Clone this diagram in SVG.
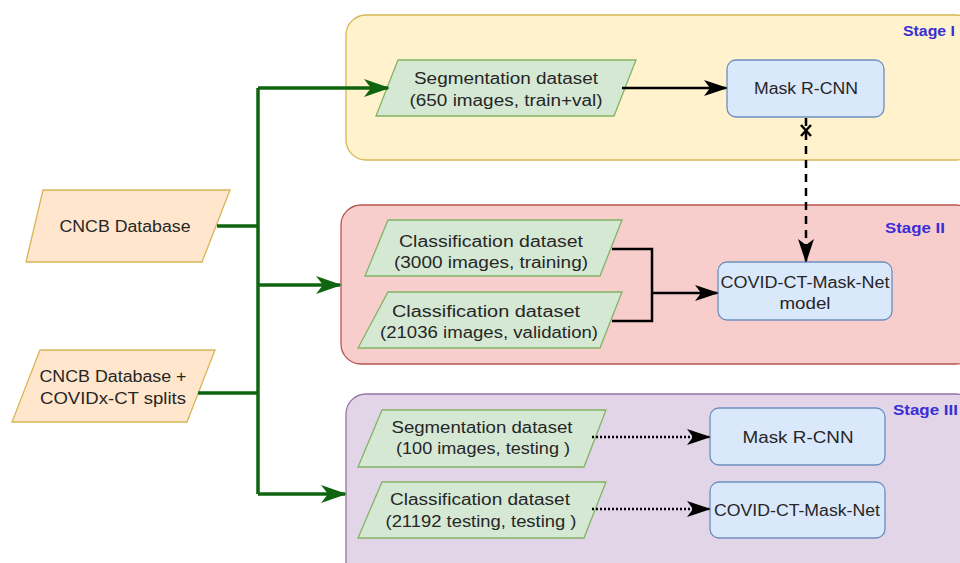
<svg xmlns="http://www.w3.org/2000/svg" width="960" height="563" viewBox="0 0 960 563">
<defs>
<style>
text{font-family:"Liberation Sans",Arial,sans-serif;font-size:16px;fill:#262626;text-anchor:middle}
.stage{font-weight:bold;font-size:15px;fill:#3a2fd6;text-anchor:start}
.g{fill:#d5e8d4;stroke:#82b366;stroke-width:1.3}
.o{fill:#ffe6cc;stroke:#d6b656;stroke-width:1.3}
.b{fill:#dae8fc;stroke:#6c8ebf;stroke-width:1.3}
.gl{stroke:#0f640f;stroke-width:3.5;fill:none}
.bl{stroke:#000;stroke-width:2.5;fill:none}
</style>
<marker id="ab" viewBox="0 0 24 16" refX="22" refY="8" markerWidth="24" markerHeight="16" markerUnits="userSpaceOnUse" orient="auto">
<path d="M0,0 L24,8 L0,16 L6,8 z" fill="#000"/>
</marker>
<marker id="ag2" viewBox="0 0 26 18" refX="24" refY="9" markerWidth="26" markerHeight="18" markerUnits="userSpaceOnUse" orient="auto">
<path d="M0,0 L26,9 L0,18 L7,9 z" fill="#0f640f"/>
</marker>
</defs>

<g id="stage1">
<rect x="346" y="15" width="630" height="145" rx="20" fill="#fff2cc" stroke="#d6b656" stroke-width="1.3"/>
<text class="stage" x="903" y="36" textLength="52" lengthAdjust="spacingAndGlyphs">Stage I</text>
</g>
<g id="stage2">
<rect x="341" y="205" width="635" height="159" rx="20" fill="#f8cecc" stroke="#b85450" stroke-width="1.3"/>
<text class="stage" x="885" y="233" textLength="60" lengthAdjust="spacingAndGlyphs">Stage II</text>
</g>
<g id="stage3">
<rect x="346" y="394" width="630" height="190" rx="20" fill="#e1d5e7" stroke="#9673a6" stroke-width="1.3"/>
<text class="stage" x="893" y="415" textLength="65" lengthAdjust="spacingAndGlyphs">Stage III</text>
</g>

<g id="cncb">
<polygon class="o" points="43,190 230,190 202,262 26,262"/>
<text x="125" y="232" textLength="131" lengthAdjust="spacingAndGlyphs">CNCB Database</text>
</g>
<g id="cncb-covidx">
<polygon class="o" points="40,350 215,350 187,422 12,422"/>
<text x="113" y="382" textLength="147" lengthAdjust="spacingAndGlyphs">CNCB Database +</text>
<text x="113" y="404" textLength="146" lengthAdjust="spacingAndGlyphs">COVIDx-CT splits</text>
</g>

<g id="seg-train">
<polygon class="g" points="398,60 636,60 614,116 376,116"/>
<text x="506" y="84" textLength="184" lengthAdjust="spacingAndGlyphs">Segmentation dataset</text>
<text x="506" y="106" textLength="193" lengthAdjust="spacingAndGlyphs">(650 images, train+val)</text>
</g>
<g id="maskrcnn-1">
<rect class="b" x="727" y="60" width="157" height="57" rx="9"/>
<text x="806" y="94" textLength="104" lengthAdjust="spacingAndGlyphs">Mask R-CNN</text>
</g>

<g id="cls-train">
<polygon class="g" points="388,220 622,220 600,276 365,276"/>
<text x="491" y="247" textLength="184" lengthAdjust="spacingAndGlyphs">Classification dataset</text>
<text x="491" y="268" textLength="194" lengthAdjust="spacingAndGlyphs">(3000 images, training)</text>
</g>
<g id="cls-val">
<polygon class="g" points="388,292 622,292 600,348 358,348"/>
<text x="486" y="317" textLength="188" lengthAdjust="spacingAndGlyphs">Classification dataset</text>
<text x="489" y="338" textLength="218" lengthAdjust="spacingAndGlyphs">(21036 images, validation)</text>
</g>
<g id="maskNet-model">
<rect class="b" x="718" y="262" width="174" height="58" rx="9"/>
<text x="805" y="288" textLength="169" lengthAdjust="spacingAndGlyphs">COVID-CT-Mask-Net</text>
<text x="805" y="309" textLength="51" lengthAdjust="spacingAndGlyphs">model</text>
</g>

<g id="seg-test">
<polygon class="g" points="382,410 606,410 584,467 358,467"/>
<text x="482" y="433" textLength="181" lengthAdjust="spacingAndGlyphs">Segmentation dataset</text>
<text x="483" y="454" textLength="174" lengthAdjust="spacingAndGlyphs">(100 images, testing )</text>
</g>
<g id="maskrcnn-2">
<rect class="b" x="710" y="408" width="175" height="57" rx="9"/>
<text x="798" y="443" textLength="111" lengthAdjust="spacingAndGlyphs">Mask R-CNN</text>
</g>
<g id="cls-test">
<polygon class="g" points="382,482 606,482 584,538 358,538"/>
<text x="480" y="505" textLength="180" lengthAdjust="spacingAndGlyphs">Classification dataset</text>
<text x="481" y="527" textLength="191" lengthAdjust="spacingAndGlyphs">(21192 testing, testing )</text>
</g>
<g id="maskNet-2">
<rect class="b" x="710" y="482" width="175" height="56" rx="9"/>
<text x="797" y="516" textLength="166" lengthAdjust="spacingAndGlyphs">COVID-CT-Mask-Net</text>
</g>

<g id="connectors">
<path class="gl" d="M217,226 H258 M198,393 H258 M258,88 V494"/>
<path class="gl" d="M258,88 H388" marker-end="url(#ag2)"/>
<path class="gl" d="M258,285 H340" marker-end="url(#ag2)"/>
<path class="gl" d="M258,494 H345" marker-end="url(#ag2)"/>
<path class="bl" d="M622,88 H726" marker-end="url(#ab)"/>
<path class="bl" d="M612,249 H652 V321 H612"/>
<path class="bl" d="M652,293 H717" marker-end="url(#ab)"/>
<path class="bl" d="M806,118 V261" stroke-dasharray="8,6" marker-end="url(#ab)"/>
<path d="M801,125 L811,136 M811,125 L801,136" stroke="#000" stroke-width="2.5"/>
<path class="bl" d="M592,437 H709" stroke-dasharray="2,2" marker-end="url(#ab)"/>
<path class="bl" d="M592,509 H709" stroke-dasharray="2,2" marker-end="url(#ab)"/>
</g>
</svg>
